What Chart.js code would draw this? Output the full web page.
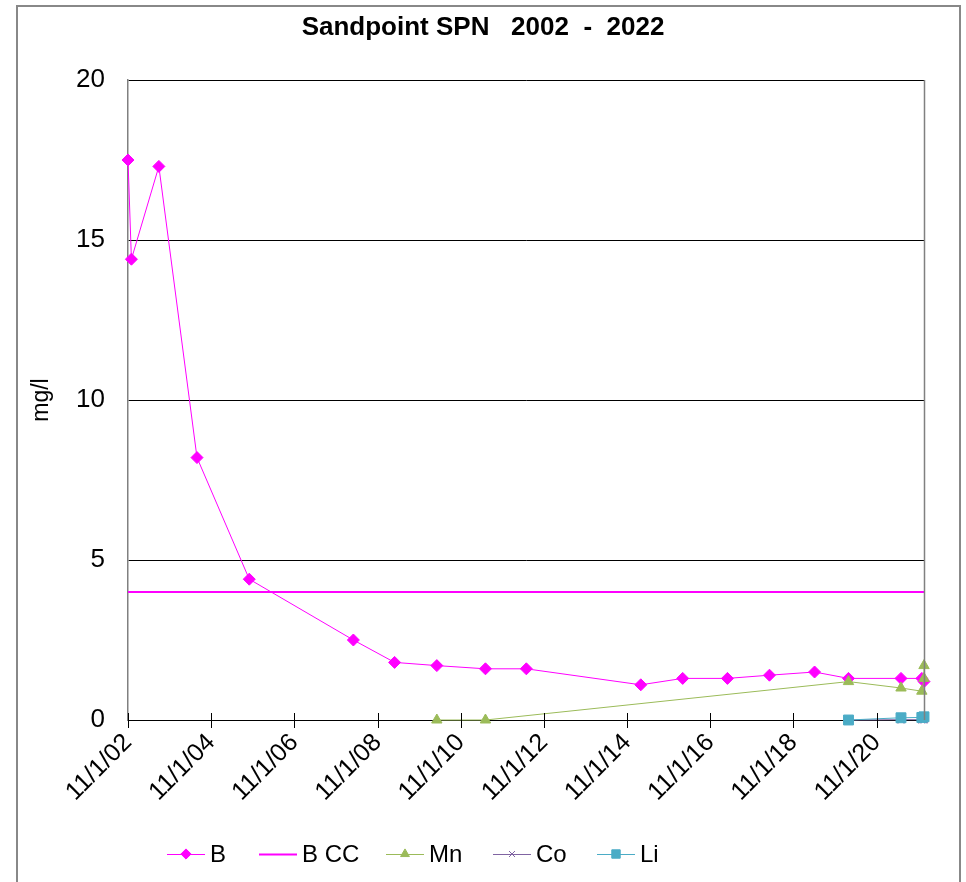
<!DOCTYPE html>
<html><head><meta charset="utf-8">
<script src="https://cdn.jsdelivr.net/npm/chart.js@4/dist/chart.umd.min.js"></script>
<style>html,body{margin:0;padding:0;background:#fff}canvas{display:block}</style>
</head><body>
<canvas id="c" width="966" height="882"></canvas>
<script>
'use strict';

/* ═══════════ DATA ═══════════ */
var chartTitle='Sandpoint SPN   2002  -  2022';
var bDates=['2002-11-01','2002-12-01','2003-07-30','2004-06-29','2005-10-01','2008-04-02','2009-03-30','2010-04-05','2011-06-06','2012-05-30','2015-03-01','2016-03-03','2017-03-31','2018-04-04','2019-05-05','2020-02-27','2021-06-02','2021-12-02','2021-12-21'];
var bVals=[17.5,14.4,17.3,8.2,4.4,2.5,1.8,1.7,1.6,1.6,1.1,1.3,1.3,1.4,1.5,1.3,1.3,1.3,1.2];
var ccDates=['2002-11-01','2021-12-21'];
var ccVals=[4,4];
var mnDates=['2010-04-05','2011-06-06','2020-02-27','2021-06-02','2021-12-02','2021-12-21','2021-12-21'];
var mnVals=[0,0,1.2,1.0,0.9,1.3,1.7];
var coDates=['2020-02-27','2021-06-02','2021-12-02','2021-12-21'];
var coVals=[0,0.01,0.01,0.01];
var liDates=['2020-02-27','2021-06-02','2021-12-02','2021-12-21'];
var liVals=[0,0.07,0.08,0.1];
var tickYears=[2002,2004,2006,2008,2010,2012,2014,2016,2018,2020];
var yTicks=[0,5,10,15,20];
var seriesNames=['B','B CC','Mn','Co','Li'];

/* ═══════════ HELPERS ═══════════ */
var FONT='"Liberation Sans", Arial, sans-serif';
function pts(d,v){return d.map(function(s,i){return{x:Date.parse(s),y:v[i]}})}
function fmtD(ms){var d=new Date(ms);return(d.getUTCMonth()+1)+'/'+d.getUTCDate()+'/'+String(d.getUTCFullYear()).slice(2)}

var COL={B:'#FF00FF',Mn:'#9BBB59',Co:'#8064A2',Li:'#4BACC6'};
var sty=[
  {c:COL.B,ps:'rectRot',r:6,w:1},
  {c:COL.B,ps:false,r:0,w:2},
  {c:COL.Mn,ps:'triangle',r:6,w:1},
  {c:COL.Co,ps:'crossRot',r:5,w:1},
  {c:COL.Li,ps:'rect',r:7,w:1}];

/* ═══════════ PLUGIN: frame, title, ticks, legend ═══════════ */
var deco={id:'deco',
  beforeDraw:function(ch){var c=ch.ctx;c.save();c.strokeStyle='#888';c.lineWidth=2;
    c.strokeRect(17,6,943,900);
    c.font='bold 26px '+FONT;c.textAlign='center';c.textBaseline='middle';c.fillStyle='#000';
    c.fillText(chartTitle,483,28);c.restore()},
  afterDraw:function(ch){var c=ch.ctx,a=ch.chartArea,xs=ch.scales.x;c.save();
    c.strokeStyle='#808080';c.lineWidth=1.5;c.beginPath();
    c.moveTo(a.right+.5,a.top);c.lineTo(a.right+.5,a.bottom);c.stroke();
    c.strokeStyle='#000';c.lineWidth=1;
    xs.ticks.forEach(function(t){var px=Math.round(xs.getPixelForValue(t.value))+.5;
      c.beginPath();c.moveTo(px,a.bottom-7);c.lineTo(px,a.bottom+8);c.stroke()});
    /* legend */
    var lx=[167,259,386,493,597],ly=854;
    c.font='24px '+FONT;c.textBaseline='middle';c.fillStyle='#000';
    seriesNames.forEach(function(n,i){var s=sty[i],x0=lx[i];
      c.strokeStyle=s.c;c.lineWidth=s.w;c.beginPath();c.moveTo(x0,ly+.5);c.lineTo(x0+38,ly+.5);c.stroke();
      if(s.ps){c.fillStyle=s.c;Chart.helpers.drawPoint(c,{pointStyle:s.ps,radius:s.r*0.85,rotation:0,borderWidth:s.ps==='crossRot'?1.5:1},x0+19,ly)}
      c.fillStyle='#000';c.fillText(n,x0+43,ly+1)});
    c.restore()}};

/* ═══════════ CHART ═══════════ */
var raw=[[bDates,bVals],[ccDates,ccVals],[mnDates,mnVals],[coDates,coVals],[liDates,liVals]];
var datasets=raw.map(function(r,i){var s=sty[i];
  return{label:seriesNames[i],data:pts(r[0],r[1]),borderColor:s.c,backgroundColor:s.c,borderWidth:s.w,
    pointStyle:s.ps||'circle',pointRadius:s.r,pointHoverRadius:s.r,pointBorderWidth:s.ps==='crossRot'?1.5:1,
    showLine:true,tension:0,clip:false,order:4-i}});

var xMin=Date.parse(bDates[0]),xMax=Date.parse(bDates[bDates.length-1]);

new Chart(document.getElementById('c'),{type:'scatter',
  data:{datasets:datasets},
  plugins:[deco],
  options:{responsive:false,animation:false,events:[],
    layout:{padding:{left:0,right:42,top:80,bottom:0}},
    plugins:{legend:{display:false},tooltip:{enabled:false},title:{display:false}},
    scales:{
      x:{type:'linear',min:xMin,max:xMax,
        afterBuildTicks:function(s){s.ticks=tickYears.map(function(y){return{value:Date.UTC(y,10,1)}})},
        afterFit:function(s){s.height=162},
        grid:{drawOnChartArea:false,drawTicks:false},border:{color:'#000',width:1},
        ticks:{autoSkip:false,minRotation:45,maxRotation:45,padding:8,color:'#000',
          font:{family:FONT,size:25},callback:function(v){return fmtD(v)}}},
      y:{min:0,max:20,
        afterBuildTicks:function(s){s.ticks=yTicks.map(function(v){return{value:v}})},
        afterFit:function(s){s.width=128},
        grid:{color:'#000',lineWidth:1,drawTicks:false},border:{color:'#808080',width:1.5},
        ticks:{padding:23,color:'#000',font:{family:FONT,size:26}},
        title:{display:true,text:'mg/l',color:'#000',font:{family:FONT,size:23},padding:{top:28,bottom:0}}}}}});
</script>
</body></html>
